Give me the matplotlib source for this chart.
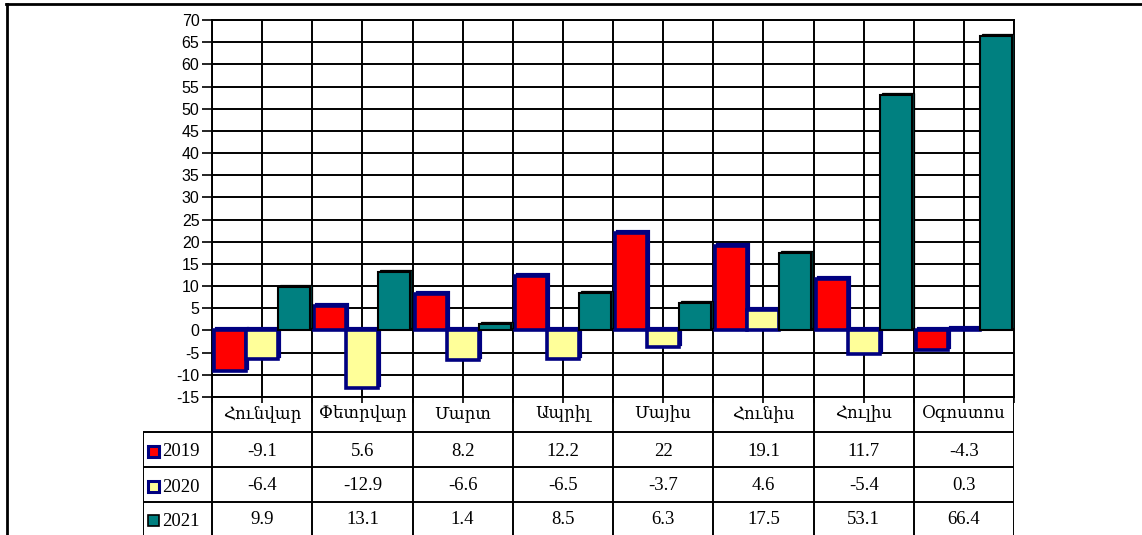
import matplotlib.pyplot as plt
import numpy as np
from matplotlib.lines import Line2D
from matplotlib.patches import Rectangle
from matplotlib.transforms import offset_copy

# data
months = ["Հունվար", "Փետրվար", "Մարտ", "Ապրիլ", "Մայիս", "Հունիս", "Հուլիս", "Օգոստոս"]
years = ["2019", "2020", "2021"]
v2019 = [-9.1, 5.6, 8.2, 12.2, 22, 19.1, 11.7, -4.3]
v2020 = [-6.4, -12.9, -6.6, -6.5, -3.7, 4.6, -5.4, 0.3]
v2021 = [9.9, 13.1, 1.4, 8.5, 6.3, 17.5, 53.1, 66.4]
yticks = list(range(-15, 75, 5))

# styles per series: fill, edge, edge width, depth colour
styles = [
    ("#FF0000", "#000080", 2.6, "#000080"),
    ("#FFFF99", "#000080", 2.6, "#000080"),
    ("#008080", "#000000", 1.5, "#003838"),
]
series = [v2019, v2020, v2021]

W, H = 1142, 535
fig = plt.figure(figsize=(W / 100, H / 100), dpi=100)


def fx(px):
    return px / W


def fy(py):
    return 1 - py / H


# main plot area
ax = fig.add_axes([fx(212), fy(397), fx(1014) - fx(212), fy(20) - fy(397)])
ax.set_xlim(0, len(months))
ax.set_ylim(-15, 70)

x = np.arange(len(months)) + 0.5
bw = 0.32
depth = offset_copy(ax.transData, fig=fig, x=2, y=2, units="dots")

for k, vals in enumerate(series):
    fill, edge, lw, dark = styles[k]
    pos = x + (k - 1) * bw
    shadow = ax.bar(pos, vals, width=bw, color=dark, edgecolor=edge,
                    linewidth=lw * 0.6, zorder=3 + 2 * k)
    for p in shadow:
        p.set_transform(depth)
    ax.bar(pos, vals, width=bw, color=fill, edgecolor=edge,
           linewidth=lw, zorder=4 + 2 * k)

ax.set_yticks(yticks)
ax.set_yticklabels([str(t) for t in yticks], fontsize=11.5, family="Liberation Sans")
ax.set_xticks(np.arange(0, len(months) + 0.5, 0.5))
ax.set_xticklabels([])
ax.grid(True, color="black", linewidth=1.4, zorder=0)
ax.set_axisbelow(True)
ax.tick_params(axis="y", direction="out", length=7, width=1.2, pad=2)
ax.tick_params(axis="x", direction="out", length=4, width=1.2)
for s in ax.spines.values():
    s.set_linewidth(1.4)
    s.set_color("black")

# data table below the plot
tax = fig.add_axes([fx(143), 0, fx(1014) - fx(143), fy(397)])
leg_w = (212 - 143) / ((1014 - 212) / len(months))
tax.set_xlim(-leg_w, len(months))
tax.set_ylim(H, 397)
tax.axis("off")

lc = dict(color="black", linewidth=1.4, solid_capstyle="butt")
for i in range(len(months) + 1):
    tax.plot([i, i], [397, H], **lc)
for yy in [432, 467, 502]:
    tax.plot([-leg_w, len(months)], [yy, yy], **lc)
tax.plot([-leg_w, -leg_w], [432, H], **lc)

serif = ["Liberation Serif", "DejaVu Serif", "DejaVu Sans"]
for i, m in enumerate(months):
    tax.text(i + 0.5, 414, m, ha="center", va="center", fontsize=12, family=serif)

row_y = [451, 486, 520]
for k, vals in enumerate(series):
    fill, edge, lw, dark = styles[k]
    for i, v in enumerate(vals):
        tax.text(i + 0.5, row_y[k], f"{v:g}", ha="center", va="center",
                 fontsize=13.5, family=serif)
    tax.add_patch(Rectangle((-leg_w + 0.05, row_y[k] - 5.5), 0.11, 11,
                            facecolor=fill, edgecolor=edge,
                            linewidth=2.2 if k < 2 else 1.2, clip_on=False))
    tax.text(-leg_w + 0.195, row_y[k] + 1, years[k], ha="left", va="center",
             fontsize=13.5, family=serif)

# outer frame (top and left edges visible)
fig.add_artist(Line2D([fx(6), 1], [fy(4), fy(4)], color="black", linewidth=2))
fig.add_artist(Line2D([fx(7), fx(7)], [fy(4), 0], color="black", linewidth=2))

fig.savefig("out.png", dpi=100)
